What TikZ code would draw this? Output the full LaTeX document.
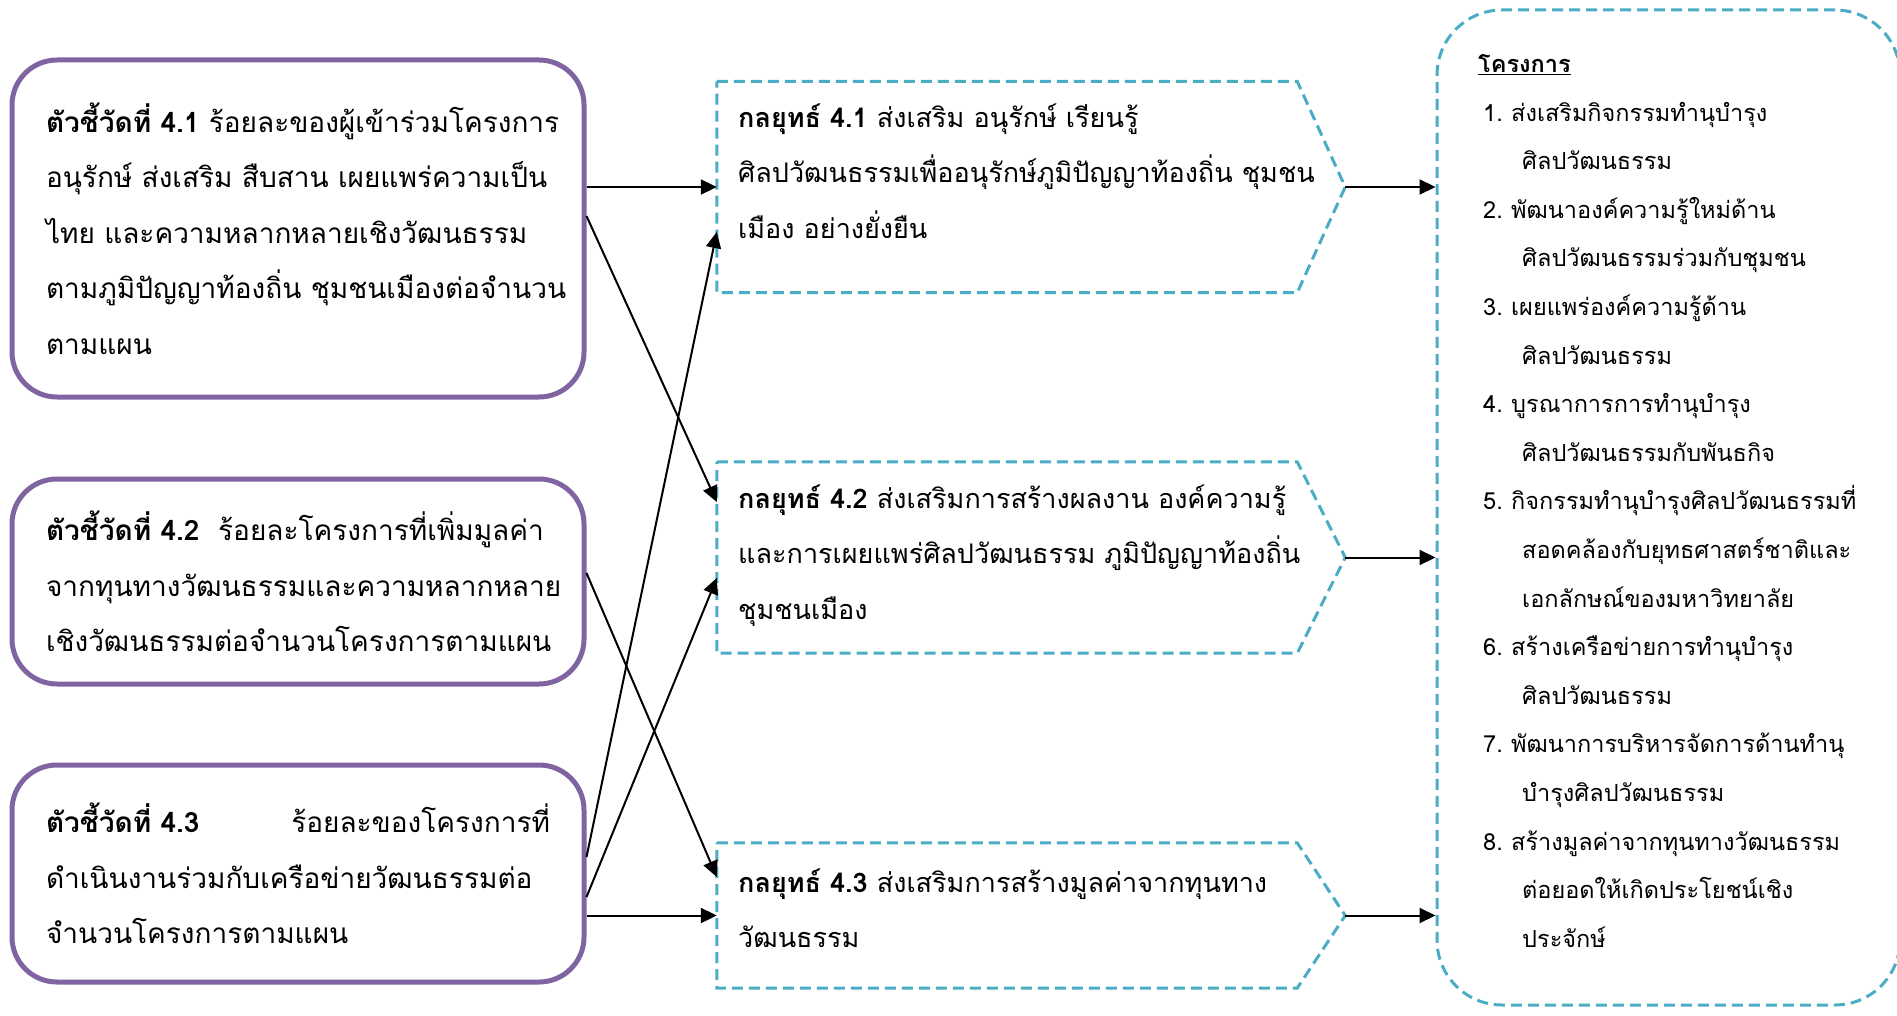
\documentclass[tikz,border=0pt]{standalone}
\usepackage{fontspec}
\newfontfamily\thaifont[Script=Thai]{Loma}
\usetikzlibrary{calc,positioning,arrows.meta}
\definecolor{indpurple}{HTML}{8064A2}
\definecolor{stratblue}{HTML}{4BACC6}
\newcommand{\projnum}[1]{\hspace*{5pt}\makebox[28pt][l]{#1}}
\newcommand{\projcont}{\hspace*{44pt}}

\begin{document}
\begin{tikzpicture}[x=1pt,y=-1pt,inner sep=0pt,
  indbox/.style={draw=indpurple,line width=5pt,rounded corners=45pt,
    minimum width=572pt,text width=504pt,inner xsep=34pt,align=left,
    font=\thaifont\fontsize{28}{55.5}\selectfont},
  stratbox/.style={minimum width=580pt},
  stratline/.style={draw=stratblue,line width=3pt,dash pattern=on 11pt off 6pt},
  strattext/.style={anchor=west,align=left,font=\thaifont\fontsize{27}{55.5}\selectfont},
  projbox/.style={stratline,rounded corners=65pt,minimum width=463pt,minimum height=995pt},
  projtext/.style={anchor=west,align=left,font=\thaifont\fontsize{23.5}{48.6}\selectfont},
  arr/.style={line width=2pt,-{Triangle[length=16pt,width=15pt]}}]

\useasboundingbox (0,0) rectangle (1897,1016);
\clip (0,0) rectangle (1897,1016);

\node[indbox,minimum height=337pt] (ind1) at (298,228.5) {\textbf{ตัวชี้วัดที่~4.1}~ร้อยละของผู้เข้าร่วมโครงการ\\
  อนุรักษ์~ส่งเสริม~สืบสาน~เผยแพร่ความเป็น\\
  ไทย~และความหลากหลายเชิงวัฒนธรรม\\
  ตามภูมิปัญญาท้องถิ่น~ชุมชนเมืองต่อจำนวน\\
  ตามแผน};
\node[indbox,minimum height=205pt] (ind2) at (298,581.5) {\textbf{ตัวชี้วัดที่~4.2}~~ร้อยละโครงการที่เพิ่มมูลค่า\\
  จากทุนทางวัฒนธรรมและความหลากหลาย\\
  เชิงวัฒนธรรมต่อจำนวนโครงการตามแผน};
\node[indbox,minimum height=217pt] (ind3) at (298,873.5) {\textbf{ตัวชี้วัดที่~4.3}\hfill ร้อยละของโครงการที่\\
  ดำเนินงานร่วมกับเครือข่ายวัฒนธรรมต่อ\\
  จำนวนโครงการตามแผน};

\node[stratbox,minimum height=211pt] (s1) at (1007,187) {};
\node[stratbox,minimum height=191pt] (s2) at (1007,557.5) {};
\node[stratbox,minimum height=145pt] (s3) at (1007,915.5) {};
\coordinate (s1tip) at ($(s1.east)+(48,0)$);
\coordinate (s2tip) at ($(s2.east)+(48,0)$);
\coordinate (s3tip) at ($(s3.east)+(48,0)$);
\draw[stratline] (s1.north west) -- (s1.north east) -- (s1tip) -- (s1.south east) -- (s1.south west) -- cycle;
\draw[stratline] (s2.north west) -- (s2.north east) -- (s2tip) -- (s2.south east) -- (s2.south west) -- cycle;
\draw[stratline] (s3.north west) -- (s3.north east) -- (s3tip) -- (s3.south east) -- (s3.south west) -- cycle;

\node[strattext] (s1text) at (738,171) {\textbf{กลยุทธ์ 4.1} ส่งเสริม อนุรักษ์ เรียนรู้\\
  ศิลปวัฒนธรรมเพื่ออนุรักษ์ภูมิปัญญาท้องถิ่น ชุมชน\\
  เมือง อย่างยั่งยืน};
\node[strattext] (s2text) at (738,555.5) {\textbf{กลยุทธ์ 4.2} ส่งเสริมการสร้างผลงาน องค์ความรู้\\
  และการเผยแพร่ศิลปวัฒนธรรม ภูมิปัญญาท้องถิ่น\\
  ชุมชนเมือง};
\node[strattext] (s3text) at (738,908) {\textbf{กลยุทธ์ 4.3} ส่งเสริมการสร้างมูลค่าจากทุนทาง\\
  วัฒนธรรม};

\node[projbox] (proj) at (1668.5,507.5) {};
\node[projtext] (projtext) at (1478,501) {\underline{\textbf{โครงการ}}\\
  \projnum{1.}ส่งเสริมกิจกรรมทำนุบำรุง\\
  \projcont ศิลปวัฒนธรรม\\
  \projnum{2.}พัฒนาองค์ความรู้ใหม่ด้าน\\
  \projcont ศิลปวัฒนธรรมร่วมกับชุมชน\\
  \projnum{3.}เผยแพร่องค์ความรู้ด้าน\\
  \projcont ศิลปวัฒนธรรม\\
  \projnum{4.}บูรณาการการทำนุบำรุง\\
  \projcont ศิลปวัฒนธรรมกับพันธกิจ\\
  \projnum{5.}กิจกรรมทำนุบำรุงศิลปวัฒนธรรมที่\\
  \projcont สอดคล้องกับยุทธศาสตร์ชาติและ\\
  \projcont เอกลักษณ์ของมหาวิทยาลัย\\
  \projnum{6.}สร้างเครือข่ายการทำนุบำรุง\\
  \projcont ศิลปวัฒนธรรม\\
  \projnum{7.}พัฒนาการบริหารจัดการด้านทำนุ\\
  \projcont บำรุงศิลปวัฒนธรรม\\
  \projnum{8.}สร้างมูลค่าจากทุนทางวัฒนธรรม\\
  \projcont ต่อยอดให้เกิดประโยชน์เชิง\\
  \projcont ประจักษ์};

\draw[arr] (ind1.east |- s1.west) -- (s1.west);
\draw[arr] ($(ind1.east)+(0,-12.5)$) -- ($(s2.west)+(0,-55.5)$);
\draw[arr] ($(ind2.east)+(0,-8.5)$) -- ($(s3.west)+(0,-38.5)$);
\draw[arr] ($(ind3.east)+(0,-16.5)$) -- ($(s1.west)+(0,45)$);
\draw[arr] ($(ind3.east)+(0,23.5)$) -- ($(s2.west)+(0,20.5)$);
\draw[arr] (ind3.east |- s3.west) -- (s3.west);

\draw[arr] (s1tip) -- (proj.west |- s1tip);
\draw[arr] (s2tip) -- (proj.west |- s2tip);
\draw[arr] (s3tip) -- (proj.west |- s3tip);

\end{tikzpicture}
\end{document}
